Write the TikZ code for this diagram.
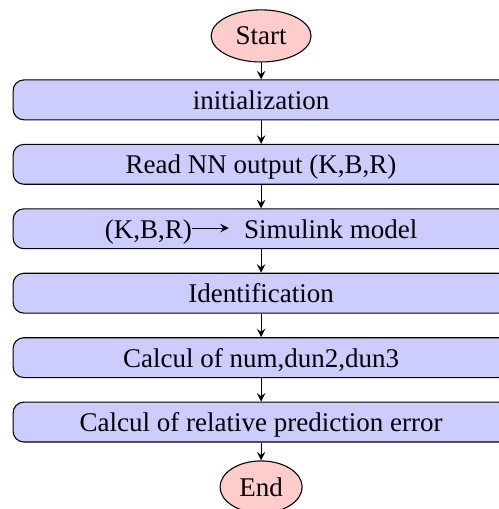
\documentclass[tikz,border=0pt]{standalone}
\usepackage{fontspec}
\setmainfont{Liberation Serif}
\usetikzlibrary{positioning,shapes.geometric}

\begin{document}
\begin{tikzpicture}[
    node distance = 8.7pt,
    terminal/.style = {ellipse, draw, fill=red!20, minimum width=37pt, minimum height=19.3pt, inner sep=1pt},
    process/.style = {rectangle, rounded corners, draw, fill=blue!20, minimum width=183.7pt, text height=7.6pt, text depth=0.5pt},
    flow/.style = {-stealth},
]
    \useasboundingbox (-96.7pt, 13.3pt) rectangle (88.1pt, -175.2pt);

    \node[terminal] (start) at (0, 0) {Start};
    \node[process, below = 6.25pt of start] (init) {initialization};
    \node[process, below = of init] (read) {Read NN output (K,B,R)};
    \node[process, below = of read] (simulink) {(K,B,R)\tikz[baseline=-3.8pt]\draw[-stealth, fill=none, rounded corners=0pt] (0.5pt, 0) -- (14pt, 0);\hspace{5.5pt}Simulink model};
    \node[process, below = of simulink] (ident) {Identification};
    \node[process, below = of ident] (calcul) {Calcul of num,dun2,dun3};
    \node[process, below = of calcul] (error) {Calcul of relative prediction error};
    \node[terminal, minimum width=30.4pt, below = 6.6pt of error] (end) {End};

    \foreach \a/\b in {start/init, init/read, read/simulink, simulink/ident, ident/calcul, calcul/error, error/end} {
        \draw[flow] (\a) -- (\b);
    }
\end{tikzpicture}
\end{document}
